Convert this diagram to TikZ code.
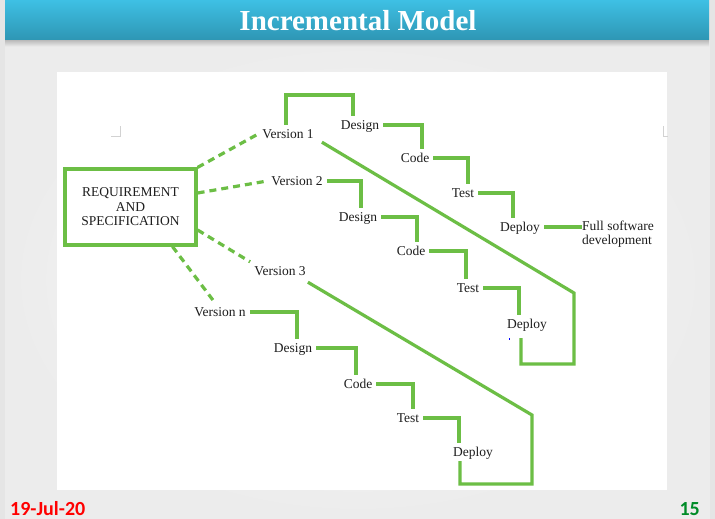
\documentclass[tikz,border=0pt]{standalone}
\usepackage{fontspec}
\setmainfont{Liberation Serif}
\newfontfamily\slidesans{Carlito}
\usetikzlibrary{calc}
\definecolor{stage}{RGB}{108,190,69}
\definecolor{barTop}{RGB}{62,192,228}
\definecolor{barBot}{RGB}{46,150,180}
\definecolor{ink}{RGB}{30,30,30}
\definecolor{dateRed}{RGB}{255,0,0}
\definecolor{pageGreen}{RGB}{0,140,40}
\begin{document}
\begin{tikzpicture}[x=1pt,y=-1pt,
  lbl/.style={font=\fontsize{13.5}{14.5}\selectfont, text=ink, inner xsep=4pt, inner ysep=4.5pt, text height=9pt, text depth=0pt},
  conn/.style={draw=stage, line width=3.2pt},
  link/.style={conn, dash pattern=on 7pt off 5pt},
  cornermark/.style={draw=gray!35, line width=1pt}
]
% slide background
\useasboundingbox (0,0) rectangle (715,519);
\fill[gray!20] (0,0) rectangle (715,519);
\shade[inner color=gray!4, outer color=gray!15] (5,40) rectangle (710,519);
\shade[top color=gray!55, bottom color=gray!12] (5,40) rectangle (709,47);
\shade[top color=barTop, bottom color=barBot] (5,0) rectangle (709,40);
\node[font=\bfseries\fontsize{29}{30}\selectfont, text=white] (title) at (358,21) {Incremental Model};
\fill[white] (57,72) rectangle (667,490);

% page corner marks
\draw[cornermark] (120,126) -- (120,136) -- (111,136);
\draw[cornermark] (663,126) -- (663,136) -- (668,136);

% requirement box
\node[draw=stage, line width=3.2pt, minimum width=131pt, minimum height=76pt, align=center,
      font=\fontsize{13.5}{14.5}\selectfont, text=ink, inner sep=0pt] (req) at (130.5,207)
      {REQUIREMENT\\AND\\SPECIFICATION};

% versions
\node[lbl] (v1) at (288,134) {Version 1};
\node[lbl] (v2) at (297,181) {Version 2};
\node[lbl] (v3) at (280,271) {Version 3};
\node[lbl] (vn) at (220,312) {Version n};

% stages of version 1
\node[lbl] (d1) at (360,125) {Design};
\node[lbl] (c1) at (415,158) {Code};
\node[lbl] (t1) at (463,193) {Test};
\node[lbl] (p1) at (520,227) {Deploy};
\node[font=\fontsize{13.5}{14}\selectfont, text=ink, anchor=north west, align=left, inner sep=0pt] (full) at (582,221)
      {Full software\\development};

% stages of version 2
\node[lbl] (d2) at (358,217) {Design};
\node[lbl] (c2) at (411,251) {Code};
\node[lbl] (t2) at (468,288) {Test};
\node[lbl] (p2) at (527,324) {Deploy};

% stages of version n
\node[lbl] (dn) at (293,348) {Design};
\node[lbl] (cn) at (358,384) {Code};
\node[lbl] (tn) at (408,418) {Test};
\node[lbl] (pn) at (473,452) {Deploy};

% dashed links from the requirement box
\draw[link] (req.north east) -- (v1.west);
\draw[link] ($(req.east)+(0,-14)$) -- (v2.west);
\draw[link] ($(req.east)+(0,23)$) -- (v3.north west);
\draw[link] ($(req.south)+(42,0)$) -- ($(vn.north)+(-5,0)$);

% version 1 flow
\coordinate (top1) at (286,95);
\draw[conn] (v1.north -| top1) -- (top1) -| ([xshift=-7pt]d1.north);
\draw[conn] (d1.east) -| ([xshift=7pt]c1.north);
\draw[conn] (c1.east) -| ([xshift=5pt]t1.north);
\draw[conn] (t1.east) -| ([xshift=-7pt]p1.north);
\draw[conn] (p1.east) -- (p1.east -| full.west);

% version 2 flow
\draw[conn] (v2.east) -| ([xshift=3pt]d2.north);
\draw[conn] (d2.east) -| ([xshift=6pt]c2.north);
\draw[conn] (c2.east) -| ([xshift=-2pt]t2.north);
\draw[conn] (t2.east) -| ([xshift=-8pt]p2.north);

% version n flow
\draw[conn] (vn.east) -| ([xshift=4pt]dn.north);
\draw[conn] (dn.east) -| ([xshift=-2pt]cn.north);
\draw[conn] (cn.east) -| ([xshift=5pt]tn.north);
\draw[conn] (tn.east) -| ([xshift=-14pt]pn.north);

% brackets closing each increment
\coordinate (k1) at (574,293);
\coordinate (k2) at (574,364);
\draw[conn] ($(v1.south east)+(4,-1)$) -- (k1) -- (k2) -| ($(p2.south)+(-6,5)$);
\coordinate (k3) at (532,415);
\coordinate (k4) at (532,484);
\draw[conn] ($(v3.south east)+(-2,2)$) -- (k3) -- (k4) -| ($(pn.south)+(-13,0)$);

\fill[blue] (508.5,338) rectangle (509.5,340);

% footer
\node[font=\slidesans\bfseries\fontsize{20}{21}\selectfont, text=dateRed, anchor=base west, inner sep=0pt] (date) at (10,515) {19-Jul-20};
\node[font=\slidesans\bfseries\fontsize{20}{21}\selectfont, text=pageGreen, anchor=base east, inner sep=0pt] (page) at (700,515) {15};
\end{tikzpicture}
\end{document}
